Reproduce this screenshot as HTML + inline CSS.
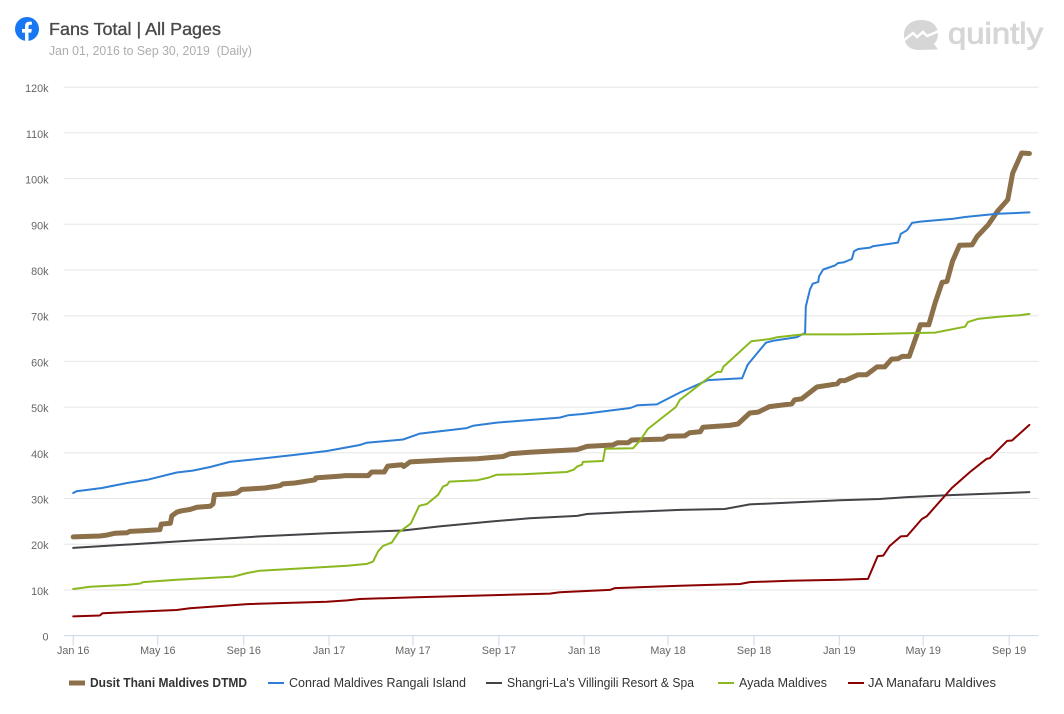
<!DOCTYPE html>
<html lang="en">
<head>
<meta charset="utf-8">
<title>Fans Total | All Pages</title>
<style>
html,body{margin:0;padding:0;background:#fff;}
svg{display:block;font-family:"Liberation Sans",sans-serif;}
</style>
</head>
<body>
<svg id="chart" xmlns="http://www.w3.org/2000/svg" width="1064" height="714" viewBox="0 0 1064 714">
  <rect x="0" y="0" width="1064" height="714" fill="#ffffff"/>
  <g>
    <circle cx="27" cy="29" r="12" fill="#1877f2"/>
    <path d="M25 41V32.6H22V29H25V26.3C25 23.2 26.8 21.6 29.5 21.6C30.8 21.6 31.9 21.8 31.9 21.8V24.8H30.4C28.9 24.8 28.5 25.7 28.5 26.6V29H31.8L31.3 32.6H28.5V41Z" fill="#ffffff"/>
  </g>
  <text x="49" y="35" font-size="17.5" fill="#4a4a4a" stroke="#4a4a4a" stroke-width="0.35" textLength="172" lengthAdjust="spacingAndGlyphs">Fans Total | All Pages</text>
  <text x="49" y="55" font-size="12.5" fill="#adadad" textLength="203" lengthAdjust="spacingAndGlyphs" xml:space="preserve">Jan 01, 2016 to Sep 30, 2019  (Daily)</text>
  <g>
    <path d="M921 20C931 20 938 25 938 34C938 39 936 42 934 44L938 49.500L919 50C909 50 904 44 904 35C904 26 911 20 921 20Z" fill="#d6d6d6"/>
    <path d="M903 41L913 33L917 37L923 32L927 36L939 31" fill="none" stroke="#ffffff" stroke-width="2.500"/>
    <text x="948" y="43.500" font-size="30" fill="#d6d6d6" stroke="#d6d6d6" stroke-width="0.9" textLength="95" lengthAdjust="spacingAndGlyphs">quintly</text>
  </g>
  <g id="grid"></g>
  <g id="ylabels"></g>
  <g id="xaxis"></g>
  <g id="lines"></g>
  <g font-size="12.5" fill="#333333">
    <g>
      <rect x="69" y="680.500" width="16" height="5" fill="#8c7049"/>
      <text x="90" y="687" font-weight="bold" textLength="157" lengthAdjust="spacingAndGlyphs">Dusit Thani Maldives DTMD</text>
    </g>
    <g>
      <rect x="268" y="682" width="16" height="2" fill="#2e7ed6"/>
      <text x="289" y="687" textLength="177" lengthAdjust="spacingAndGlyphs">Conrad Maldives Rangali Island</text>
    </g>
    <g>
      <rect x="486" y="682" width="16" height="2" fill="#434348"/>
      <text x="507" y="687" textLength="187" lengthAdjust="spacingAndGlyphs">Shangri-La's Villingili Resort &amp; Spa</text>
    </g>
    <g>
      <rect x="718" y="682" width="16" height="2" fill="#8ab81f"/>
      <text x="739" y="687" textLength="88" lengthAdjust="spacingAndGlyphs">Ayada Maldives</text>
    </g>
    <g>
      <rect x="848" y="682" width="16" height="2" fill="#8b0000"/>
      <text x="868" y="687" textLength="128" lengthAdjust="spacingAndGlyphs">JA Manafaru Maldives</text>
    </g>
  </g>
</svg>
<script>
const yTickValues = [0, 10, 20, 30, 40, 50, 60, 70, 80, 90, 100, 110, 120];
const yTickLabels = ["0", "10k", "20k", "30k", "40k", "50k", "60k", "70k", "80k", "90k", "100k", "110k", "120k"];
const xTickDays = [0, 121, 244, 366, 486, 609, 731, 851, 974, 1096, 1216, 1339];
const xTickLabels = ["Jan 16", "May 16", "Sep 16", "Jan 17", "May 17", "Sep 17", "Jan 18", "May 18", "Sep 18", "Jan 19", "May 19", "Sep 19"];

const dusitDays = [0,38,48,60,77,81,96,117,124,126,139,141,148,155,167,177,196,200,202,224,234,241,274,296,300,317,346,347,382,389,422,427,445,450,470,473,482,539,578,615,625,653,721,735,772,779,794,799,844,851,875,882,897,901,939,951,968,980,996,1028,1032,1042,1064,1093,1097,1104,1123,1135,1150,1161,1171,1180,1186,1196,1212,1224,1233,1243,1250,1258,1268,1286,1293,1309,1322,1337,1344,1357,1368];
const dusitFans = [21.6,21.8,22.0,22.4,22.5,22.8,22.9,23.1,23.2,24.4,24.6,26.2,27.0,27.3,27.6,28.1,28.3,28.8,30.8,31.0,31.2,32.0,32.3,32.8,33.2,33.4,34.1,34.5,34.9,35.0,35.0,35.8,35.8,37.1,37.4,37.0,38.0,38.5,38.7,39.2,39.8,40.1,40.7,41.4,41.7,42.2,42.2,42.8,43.0,43.6,43.7,44.4,44.6,45.6,46.0,46.3,48.7,48.9,50.1,50.7,51.6,51.8,54.4,55.1,55.8,55.8,57.1,57.1,58.8,58.8,60.5,60.6,61.1,61.1,68.0,68.0,72.8,77.3,77.5,81.9,85.4,85.5,87.3,89.9,92.8,95.4,101.2,105.6,105.5];

const conradDays = [0,5,41,77,106,148,171,196,224,267,314,363,410,420,472,496,563,572,606,696,708,729,797,807,835,840,868,908,957,965,991,1001,1035,1044,1047,1048,1054,1058,1066,1067,1073,1090,1094,1103,1114,1117,1123,1140,1144,1180,1184,1193,1200,1212,1259,1276,1322,1368];
const conradFans = [31.2,31.6,32.3,33.4,34.1,35.7,36.1,36.9,38.0,38.7,39.5,40.4,41.7,42.2,42.9,44.2,45.4,45.9,46.6,47.7,48.2,48.5,49.8,50.4,50.6,51.0,53.2,55.9,56.3,59.3,64.1,64.5,65.3,66.0,66.2,72.0,75.7,77.0,77.4,78.6,80.1,81.0,81.5,81.7,82.4,84.1,84.6,84.9,85.2,86.0,87.9,88.7,90.3,90.6,91.2,91.6,92.3,92.6];

const shangriDays = [0,97,171,267,363,472,524,600,653,721,735,801,868,932,968,1097,1154,1193,1250,1368];
const shangriFans = [19.2,20.1,20.8,21.7,22.4,23.0,23.9,25.0,25.7,26.2,26.6,27.1,27.5,27.7,28.7,29.6,29.9,30.3,30.7,31.4];

const ayadaDays = [0,10,24,77,96,100,148,229,249,267,392,420,429,436,443,456,465,483,495,506,522,529,535,538,578,593,606,643,706,716,721,728,729,758,761,801,811,822,862,868,908,921,927,930,970,997,1007,1044,1107,1144,1233,1276,1280,1294,1326,1354,1368];
const ayadaFans = [10.2,10.4,10.7,11.1,11.4,11.7,12.2,12.9,13.7,14.2,15.3,15.7,16.2,18.4,19.6,20.4,22.5,24.5,28.4,28.8,30.8,32.6,33.0,33.7,34.0,34.5,35.2,35.3,35.8,36.3,37.0,37.4,38.0,38.2,40.9,41.0,42.7,45.2,50.0,51.6,56.3,57.7,57.7,58.8,64.4,64.9,65.3,65.9,65.9,66.0,66.3,67.6,68.6,69.3,69.8,70.1,70.4];

const jaDays = [0,38,42,148,167,249,363,392,410,491,682,696,768,775,868,954,968,1025,1097,1137,1151,1159,1168,1184,1193,1214,1221,1257,1283,1307,1311,1336,1343,1368];
const jaFans = [4.2,4.4,4.9,5.6,6.0,6.9,7.4,7.7,8.0,8.4,9.2,9.5,10.0,10.4,10.9,11.3,11.7,12.0,12.2,12.4,17.4,17.5,19.6,21.7,21.8,25.5,26.1,32.3,35.8,38.7,38.8,42.6,42.7,46.1];

const NS = "http://www.w3.org/2000/svg";

function xScale(day) {
  return 73.2 + day * 0.699;
}
function yScale(k) {
  return 635.6 - k * 4.57;
}
function make(tag, parent, attrs) {
  const el = document.createElementNS(NS, tag);
  Object.keys(attrs).forEach(function (key) { el.setAttribute(key, attrs[key]); });
  parent.appendChild(el);
  return el;
}

const gridGroup = document.getElementById("grid");
const yLabelGroup = document.getElementById("ylabels");
const xAxisGroup = document.getElementById("xaxis");
const lineGroup = document.getElementById("lines");

yTickValues.forEach(function (value, i) {
  const y = yScale(value);
  if (value !== 0) {
    const grid = make("line", gridGroup, { x1: 64, x2: 1038.5, y1: y, y2: y, stroke: "#e6e6e6", "stroke-width": 1 });
    
    
  }
  const label = make("text", yLabelGroup, { x: 48.5, y: y + 5, "text-anchor": "end", "font-size": 10.8, fill: "#666666" });
  
  
  label.textContent = yTickLabels[i];
});

const axisLine = make("line", xAxisGroup, { x1: 64, x2: 1038.5, y1: yScale(0), y2: yScale(0), stroke: "#ccd6eb", "stroke-width": 1 });



xTickDays.forEach(function (day, i) {
  const x = xScale(day);
  const tick = make("line", xAxisGroup, { x1: x, x2: x, y1: yScale(0), y2: yScale(0) + 10, stroke: "#ccd6eb", "stroke-width": 1 });
  
  
  const label = make("text", xAxisGroup, { x: x, y: 654, "text-anchor": "middle", "font-size": 10.8, fill: "#666666" });
  
  
  label.textContent = xTickLabels[i];
});

function drawLine(days, fans, color, width) {
  const pts = days.map(function (day, i) {
    return xScale(day).toFixed(1) + "," + yScale(fans[i]).toFixed(1);
  });
  return make("polyline", lineGroup, {
    points: pts.join(" "),
    fill: "none",
    stroke: color,
    "stroke-width": width,
    "stroke-linejoin": "round",
    "stroke-linecap": "round"
  });
}

const dusitLine = drawLine(dusitDays, dusitFans, "#8c7049", 5);



const conradLine = drawLine(conradDays, conradFans, "#2e7ed6", 2);



const shangriLine = drawLine(shangriDays, shangriFans, "#434348", 2);



const ayadaLine = drawLine(ayadaDays, ayadaFans, "#8ab81f", 2);



const jaLine = drawLine(jaDays, jaFans, "#8b0000", 2);


</script>
</body>
</html>
